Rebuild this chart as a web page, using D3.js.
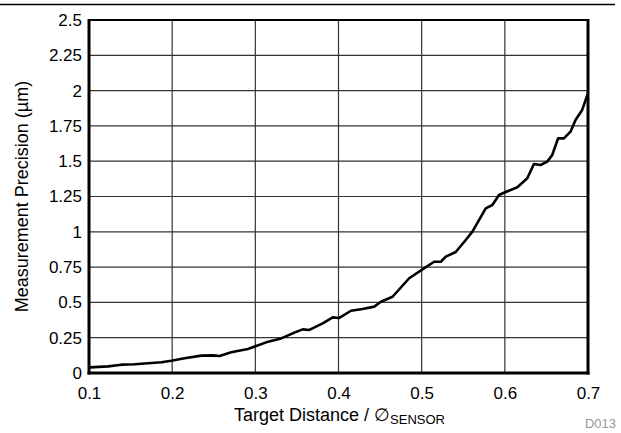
<!DOCTYPE html>
<html>
<head>
<meta charset="utf-8">
<script src="https://cdn.jsdelivr.net/npm/d3@7"></script>
<style>
  body { margin: 0; background: #fff; }
  svg { display: block; font-family: "Liberation Sans", Arial, sans-serif; }
</style>
</head>
<body>
<script>
// tick values
var xTicks = [0.1, 0.2, 0.3, 0.4, 0.5, 0.6, 0.7];
var yTicks = [0, 0.25, 0.5, 0.75, 1, 1.25, 1.5, 1.75, 2, 2.25, 2.5];
var yTickLabels = ["0", "0.25", "0.5", "0.75", "1", "1.25", "1.5", "1.75", "2", "2.25", "2.5"];

var distance = [0.101, 0.123, 0.139, 0.155, 0.187, 0.199, 0.215, 0.235, 0.249, 0.257,
  0.271, 0.291, 0.301, 0.313, 0.331, 0.345, 0.357, 0.365, 0.381, 0.393,
  0.401, 0.415, 0.429, 0.443, 0.451, 0.465, 0.485, 0.501, 0.515, 0.523,
  0.529, 0.541, 0.553, 0.561, 0.577, 0.585, 0.593, 0.601, 0.615, 0.627,
  0.635, 0.643, 0.651, 0.657, 0.664, 0.671, 0.679, 0.685, 0.693, 0.700];
var precision = [0.040, 0.047, 0.059, 0.062, 0.076, 0.087, 0.104, 0.123, 0.125, 0.120,
  0.147, 0.170, 0.191, 0.217, 0.245, 0.281, 0.309, 0.305, 0.352, 0.394,
  0.390, 0.441, 0.453, 0.470, 0.505, 0.540, 0.671, 0.734, 0.788, 0.788,
  0.824, 0.857, 0.942, 1.001, 1.166, 1.190, 1.261, 1.282, 1.315, 1.379,
  1.480, 1.473, 1.497, 1.544, 1.662, 1.662, 1.709, 1.792, 1.863, 1.981];

width = 621;
height = 433;
var margin = { top: 20, right: 33, bottom: 60, left: 89 };
var plotW = width - margin.left - margin.right;
var plotH = height - margin.top - margin.bottom;

var x = d3.scaleLinear().domain([0.1, 0.7]).range([0, plotW]);
var y = d3.scaleLinear().domain([0, 2.5]).range([plotH, 0]);

const svg = d3
  .select("body")
  .append("svg")
  .attr("width", width)
  .attr("height", height);

// rule across the top of the figure
svg
  .append("line")
  .attr("x1", 0)
  .attr("x2", 615)
  .attr("y1", 4.5)
  .attr("y2", 4.5)
  .attr("stroke", "#000")
  .attr("stroke-width", 1.5);

const g = svg
  .append("g")
  .attr("transform", `translate(${margin.left},${margin.top})`);

// grid
g.append("g")
  .selectAll("line")
  .data(xTicks)
  .enter()
  .append("line")
  .attr("x1", (d) => x(d))
  .attr("x2", (d) => x(d))
  .attr("y1", 0)
  .attr("y2", plotH)
  .attr("stroke", "#333")
  .attr("stroke-width", 1.2);

g.append("g")
  .selectAll("line")
  .data(yTicks)
  .enter()
  .append("line")
  .attr("x1", 0)
  .attr("x2", plotW)
  .attr("y1", (d) => y(d))
  .attr("y2", (d) => y(d))
  .attr("stroke", "#333")
  .attr("stroke-width", 1.2);

// axes (labels only, lines hidden)
const xAxis = d3
  .axisBottom(x)
  .tickValues(xTicks)
  .tickSize(0)
  .tickPadding(14)
  .tickFormat(d3.format(".1f"));
const yAxis = d3
  .axisLeft(y)
  .tickValues(yTicks)
  .tickSize(0)
  .tickPadding(7)
  .tickFormat((d, i) => yTickLabels[i]);

const gX = g
  .append("g")
  .attr("transform", `translate(0,${plotH})`)
  .call(xAxis);
const gY = g.append("g").call(yAxis);
[gX, gY].forEach(function (ax) {
  ax.select(".domain").remove();
  ax.selectAll("text")
    .attr("font-size", 17)
    .attr("fill", "#000")
    .attr("font-family", "Liberation Sans, Arial, sans-serif");
});

// curve
var line = d3
  .line()
  .x((d, i) => x(distance[i]))
  .y((d, i) => y(precision[i]));

g.append("path")
  .datum(precision)
  .attr("d", line)
  .attr("fill", "none")
  .attr("stroke", "#000")
  .attr("stroke-width", 2.6)
  .attr("stroke-linejoin", "round");

// frame: thick left/bottom/right, thinner top
g.append("line").attr("x1", 0).attr("x2", plotW).attr("y1", 0).attr("y2", 0)
  .attr("stroke", "#000").attr("stroke-width", 2);
g.append("line").attr("x1", 0).attr("x2", 0).attr("y1", -1).attr("y2", plotH + 1.5)
  .attr("stroke", "#000").attr("stroke-width", 3);
g.append("line").attr("x1", plotW).attr("x2", plotW).attr("y1", -1).attr("y2", plotH + 1.5)
  .attr("stroke", "#000").attr("stroke-width", 3);
g.append("line").attr("x1", -1.5).attr("x2", plotW + 1.5).attr("y1", plotH).attr("y2", plotH)
  .attr("stroke", "#000").attr("stroke-width", 3);

// axis titles
var xTitle = svg
  .append("text")
  .attr("x", margin.left + plotW / 2 + 1)
  .attr("y", 421)
  .attr("text-anchor", "middle")
  .attr("font-size", 18);
xTitle.append("tspan").text("Target Distance / \u2205");
xTitle.append("tspan").attr("font-size", 13).attr("dy", 3).text("SENSOR");

svg
  .append("text")
  .attr("transform", `translate(28,${margin.top + plotH / 2}) rotate(-90)`)
  .attr("text-anchor", "middle")
  .attr("font-size", 18)
  .text("Measurement Precision (\u00b5m)");

svg
  .append("text")
  .attr("x", 616)
  .attr("y", 428)
  .attr("text-anchor", "end")
  .attr("font-size", 13)
  .attr("fill", "#999")
  .text("D013");
</script>
</body>
</html>
